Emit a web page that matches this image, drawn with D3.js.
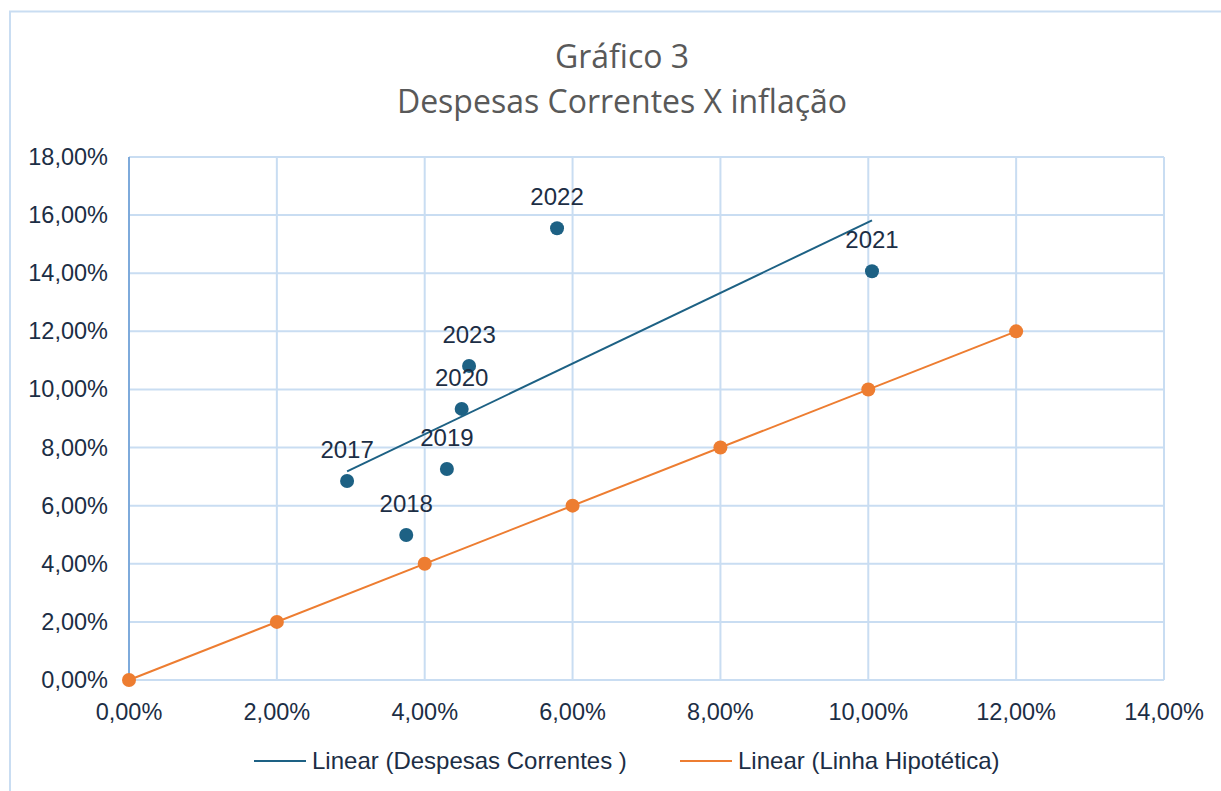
<!DOCTYPE html>
<html>
<head>
<meta charset="utf-8">
<script src="https://cdn.jsdelivr.net/npm/d3@7"></script>
<style>
  body { margin: 0; background: #fff; }
  svg { display: block; }
</style>
</head>
<body>
<div id="chart"></div>
<script>
// despesas correntes x inflacao (values in %)
var years = ['2017', '2018', '2019', '2020', '2023', '2022', '2021'];
var inflacao = [2.95, 3.75, 4.30, 4.50, 4.60, 5.79, 10.05];
var despesas = [6.85, 4.99, 7.26, 9.33, 10.81, 15.55, 14.07];

// linha hipotetica: y = x
var hipX = [0, 2, 4, 6, 8, 10, 12];
var hipY = [0, 2, 4, 6, 8, 10, 12];

var xTicks = [0, 2, 4, 6, 8, 10, 12, 14];
var yTicks = [0, 2, 4, 6, 8, 10, 12, 14, 16, 18];

var W = 1221, H = 791;
var blue = '#1d6184', orange = '#ed7d31', grid = '#c9ddf2', ink = '#1c2e45';
var sans = 'Liberation Sans, Arial, sans-serif';

var svg = d3.select('#chart').append('svg')
    .attr('width', W)
    .attr('height', H);

// outer frame, clipped on right/bottom like the screenshot
svg.append('rect')
    .attr('x', 10).attr('y', 11.5)
    .attr('width', W + 20).attr('height', H + 20)
    .style('fill', 'none')
    .style('stroke', '#c9ddf2')
    .style('stroke-width', 2);

var x = d3.scaleLinear().domain([0, 14]).range([129, 1164]);
var y = d3.scaleLinear().domain([0, 18]).range([680, 157]);

function pct(d) {
    return d3.format('.2f')(d).replace('.', ',') + '%';
}

// gridlines
svg.append('g').selectAll('line.v')
    .data(xTicks)
    .enter().append('line')
    .attr('x1', function (d) { return x(d) }).attr('x2', function (d) { return x(d) })
    .attr('y1', y(0)).attr('y2', y(18))
    .style('stroke', grid).style('stroke-width', 2);

svg.append('g').selectAll('line.h')
    .data(yTicks)
    .enter().append('line')
    .attr('x1', x(0)).attr('x2', x(14))
    .attr('y1', function (d) { return y(d) }).attr('y2', function (d) { return y(d) })
    .style('stroke', grid).style('stroke-width', 2);

// y axis line
svg.append('line')
    .attr('x1', x(0)).attr('x2', x(0))
    .attr('y1', y(0)).attr('y2', y(18))
    .style('stroke', '#7eaadb').style('stroke-width', 2);

// tick labels
svg.append('g').selectAll('text')
    .data(yTicks)
    .enter().append('text')
    .attr('x', 108)
    .attr('y', function (d) { return y(d) + 8 })
    .attr('text-anchor', 'end')
    .style('font-family', sans)
    .style('font-size', '23.5px')
    .style('fill', ink)
    .text(pct);

svg.append('g').selectAll('text')
    .data(xTicks)
    .enter().append('text')
    .attr('x', function (d) { return x(d) })
    .attr('y', 720)
    .attr('text-anchor', 'middle')
    .style('font-family', sans)
    .style('font-size', '23.5px')
    .style('fill', ink)
    .text(pct);

// linear trend (least squares)
function linreg(xs, ys) {
    var mx = d3.mean(xs), my = d3.mean(ys);
    var sxy = 0, sxx = 0;
    xs.forEach(function (v, i) {
        sxy += (v - mx) * (ys[i] - my);
        sxx += (v - mx) * (v - mx);
    });
    var b = sxy / sxx;
    return { a: my - b * mx, b: b };
}

var fit = linreg(inflacao, despesas);
var x0 = d3.min(inflacao), x1 = d3.max(inflacao);
svg.append('line')
    .attr('x1', x(x0)).attr('y1', y(fit.a + fit.b * x0))
    .attr('x2', x(x1)).attr('y2', y(fit.a + fit.b * x1))
    .style('stroke', blue).style('stroke-width', 2);

var fit2 = linreg(hipX, hipY);
var h0 = d3.min(hipX), h1 = d3.max(hipX);
svg.append('line')
    .attr('x1', x(h0)).attr('y1', y(fit2.a + fit2.b * h0))
    .attr('x2', x(h1)).attr('y2', y(fit2.a + fit2.b * h1))
    .style('stroke', orange).style('stroke-width', 2);

// points
svg.append('g').selectAll('circle')
    .data(hipX)
    .enter().append('circle')
    .attr('cx', function (d) { return x(d) })
    .attr('cy', function (d, i) { return y(hipY[i]) })
    .attr('r', 7)
    .style('fill', orange);

svg.append('g').selectAll('circle')
    .data(inflacao)
    .enter().append('circle')
    .attr('cx', function (d) { return x(d) })
    .attr('cy', function (d, i) { return y(despesas[i]) })
    .attr('r', 7)
    .style('fill', blue);

// data labels (year above each point)
svg.append('g').selectAll('text')
    .data(inflacao)
    .enter().append('text')
    .attr('x', function (d) { return x(d) })
    .attr('y', function (d, i) { return y(despesas[i]) - 23 })
    .attr('text-anchor', 'middle')
    .style('font-family', sans)
    .style('font-size', '24px')
    .style('fill', ink)
    .text(function (d, i) { return years[i] });

// title
var title = svg.append('text')
    .attr('text-anchor', 'middle')
    .style('font-family', 'Open Sans, sans-serif')
    .style('font-size', '32px')
    .style('fill', '#595959');
title.append('tspan').attr('x', 622).attr('y', 68).text('Gráfico 3');
title.append('tspan').attr('x', 622).attr('y', 113).text('Despesas Correntes X inflação');

// legend
var legend = [
    { label: 'Linear (Despesas Correntes )', color: blue, x: 254 },
    { label: 'Linear (Linha Hipotética)', color: orange, x: 680 }
];
var lg = svg.append('g').selectAll('g')
    .data(legend)
    .enter().append('g');
lg.append('line')
    .attr('x1', function (d) { return d.x }).attr('x2', function (d) { return d.x + 52 })
    .attr('y1', 761).attr('y2', 761)
    .style('stroke', function (d) { return d.color })
    .style('stroke-width', 2);
lg.append('text')
    .attr('x', function (d) { return d.x + 58 })
    .attr('y', 769)
    .style('font-family', sans)
    .style('font-size', '24px')
    .style('fill', ink)
    .text(function (d) { return d.label });
</script>
</body>
</html>
